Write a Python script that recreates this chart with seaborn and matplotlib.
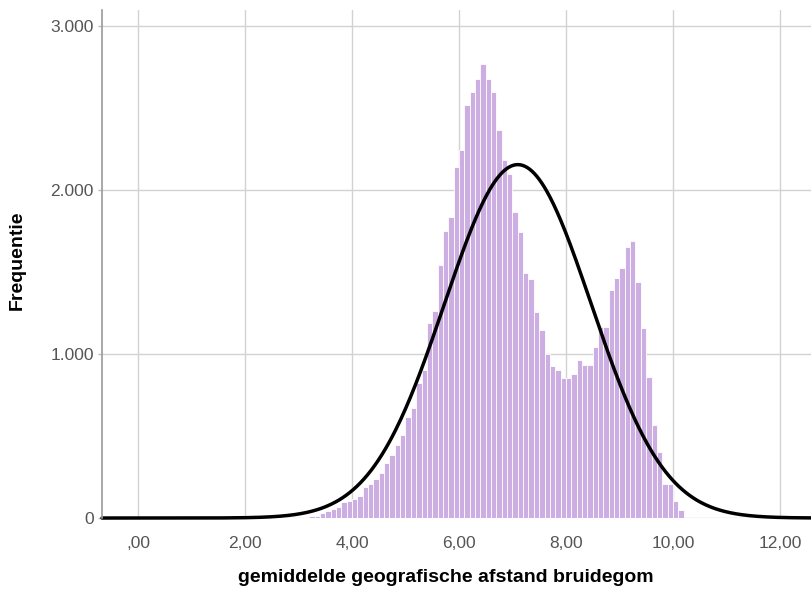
import numpy as np
import pandas as pd
import matplotlib
matplotlib.use("Agg")
import matplotlib.pyplot as plt
import seaborn as sns

# ---- data ----
bin_left = [3.0, 3.1, 3.2, 3.3, 3.4, 3.5, 3.6, 3.7, 3.8, 3.9,
            4.0, 4.1, 4.2, 4.3, 4.4, 4.5, 4.6, 4.7, 4.8, 4.9,
            5.0, 5.1, 5.2, 5.3, 5.4, 5.5, 5.6, 5.7, 5.8, 5.9,
            6.0, 6.1, 6.2, 6.3, 6.4, 6.5, 6.6, 6.7, 6.8, 6.9,
            7.0, 7.1, 7.2, 7.3, 7.4, 7.5, 7.6, 7.7, 7.8, 7.9,
            8.0, 8.1, 8.2, 8.3, 8.4, 8.5, 8.6, 8.7, 8.8, 8.9,
            9.0, 9.1, 9.2, 9.3, 9.4, 9.5, 9.6, 9.7, 9.8, 9.9,
            10.0, 10.1]
counts = [3, 5, 10, 15, 28, 45, 58, 70, 95, 105,
          115, 135, 187, 205, 236, 275, 335, 384, 445, 506,
          618, 669, 821, 902, 1187, 1265, 1543, 1750, 1835, 2142,
          2244, 2520, 2600, 2680, 2770, 2680, 2600, 2366, 2183, 2095,
          1865, 1746, 1495, 1455, 1258, 1146, 1000, 930, 900, 852,
          852, 878, 963, 933, 933, 1041, 1163, 1165, 1390, 1461,
          1526, 1650, 1691, 1441, 1157, 862, 565, 400, 207, 205,
          106, 49]
bin_width = 0.1
curve_mean = 7.10
curve_sd = 1.37

x_ticks = [0, 2, 4, 6, 8, 10, 12]
x_tick_labels = [",00", "2,00", "4,00", "6,00", "8,00", "10,00", "12,00"]
y_ticks = [0, 1000, 2000, 3000]
y_tick_labels = ["0", "1.000", "2.000", "3.000"]

x_label = "gemiddelde geografische afstand bruidegom"
y_label = "Frequentie"

# ---- build ----
sns.set_theme(style="white")
plt.rcParams["font.family"] = ["Liberation Sans", "DejaVu Sans"]

df = pd.DataFrame({"center": np.array(bin_left) + bin_width / 2, "count": counts})
lo = bin_left[0]
hi = bin_left[-1] + bin_width

fig = plt.figure(figsize=(8.12, 5.89), dpi=100)
ax = fig.add_axes([0.1256, 0.1205, 0.8744, 0.8625])

xmin, xmax = -0.673, 12.6
ax.set_xlim(xmin, xmax)
ax.set_ylim(0, 3098)

ax.set_axisbelow(True)
ax.grid(True, color="#d2d2d2", linewidth=1.0)

sns.histplot(data=df, x="center", weights="count", binwidth=bin_width,
             binrange=(lo, hi), ax=ax,
             color="#cdaee3", edgecolor="white", linewidth=0.6, alpha=1.0)

n_total = float(np.sum(counts))
xs = np.linspace(xmin, xmax, 600)
ys = n_total * bin_width / (curve_sd * np.sqrt(2 * np.pi)) * np.exp(-0.5 * ((xs - curve_mean) / curve_sd) ** 2)
sns.lineplot(x=xs, y=ys, ax=ax, color="black", linewidth=2.5, clip_on=False)

ax.set_xlim(xmin, xmax)
ax.set_ylim(0, 3098)
ax.set_xticks(x_ticks)
ax.set_xticklabels(x_tick_labels)
ax.set_yticks(y_ticks)
ax.set_yticklabels(y_tick_labels)
ax.tick_params(axis="x", length=0, pad=13, labelsize=12.5, labelcolor="#555555")
ax.tick_params(axis="y", length=3, width=1, color="#bdbdbd", pad=3, labelsize=12.5, labelcolor="#555555", left=True)

for s in ["top", "right", "bottom"]:
    ax.spines[s].set_visible(False)
ax.spines["left"].set_color("#9a9a9a")
ax.spines["left"].set_linewidth(1.2)

ax.set_xlabel(x_label, fontsize=14, fontweight="bold", color="black")
ax.set_ylabel(y_label, fontsize=14, fontweight="bold", color="black")
ax.xaxis.set_label_coords(0.484, -0.100)
ax.yaxis.set_label_coords(-0.107, 0.508)

fig.savefig("out.png", dpi=100)
